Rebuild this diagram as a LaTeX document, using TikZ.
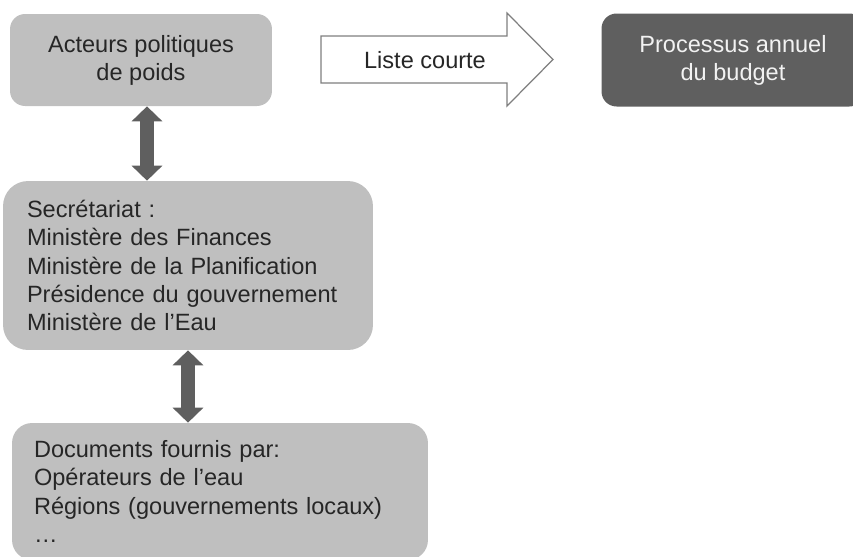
\documentclass[tikz,border=0pt]{standalone}
\usepackage{fontspec}
\setmainfont{Liberation Sans}
\usepackage{xcolor}
\usepackage{tikz}
\usetikzlibrary{positioning, arrows.meta}

\definecolor{boxgray}{HTML}{BFBFBF}
\definecolor{darkgray}{HTML}{5F5F5F}
\definecolor{textgray}{HTML}{262626}
\definecolor{outlinegray}{HTML}{7F7F7F}

\begin{document}
\begin{tikzpicture}[
    x=0.02cm, y=-0.02cm,
    font=\fontsize{13.4pt}{16pt}\selectfont,
    box/.style={rectangle, rounded corners=0.3cm, inner sep=0pt, align=center, text=textgray},
    light/.style={box, fill=boxgray},
    dark/.style={box, fill=darkgray, text=white!95!black},
    listbox/.style={box, rounded corners=0.5cm, fill=boxgray, align=left},
    dblarrow/.style={{Triangle[width=0.6cm,length=0.3cm]}-{Triangle[width=0.6cm,length=0.3cm]}, line width=0.28cm, draw=darkgray},
    bigarrow/.style={draw=outlinegray, line width=0.7pt, fill=white}
]
\useasboundingbox (0,0) rectangle (853,556);
\clip (0,0) rectangle (853,556);

% Top row
\node[light, minimum width=5.24cm, minimum height=1.84cm] (acteurs) at (141,60) {Acteurs politiques\\de poids};
\node[dark, minimum width=5.26cm, minimum height=1.86cm] (budget) at (733,60) {Processus annuel\\du budget};

% Outlined arrow between the two
\draw[bigarrow] (321,36) -- (507,36) -- (507,13) -- (553,59.5) -- (507,106) -- (507,83) -- (321,83) -- cycle;
\node[text=textgray] (liste) at (425,60) {Liste courte};

% Left column
\node[listbox, text width=6.44cm, inner xsep=0.48cm, minimum height=3.38cm] (secretariat) at (188,265.5)
    {Secrétariat :\\Ministère des Finances\\Ministère de la Planification\\Présidence du gouvernement\\Ministère de l’Eau};
\node[listbox, rounded corners=0.4cm, text width=7.44cm, inner xsep=0.44cm, minimum height=2.74cm] (documents) at (220,491.5)
    {Documents fournis par:\\Opérateurs de l’eau\\Régions (gouvernements locaux)\\…};

% Double arrows
\draw[dblarrow] ([xshift=0.12cm]acteurs.south) -- ([xshift=0.12cm]acteurs.south |- secretariat.north);
\draw[dblarrow] (secretariat.south) -- (secretariat.south |- documents.north);

\end{tikzpicture}
\end{document}
